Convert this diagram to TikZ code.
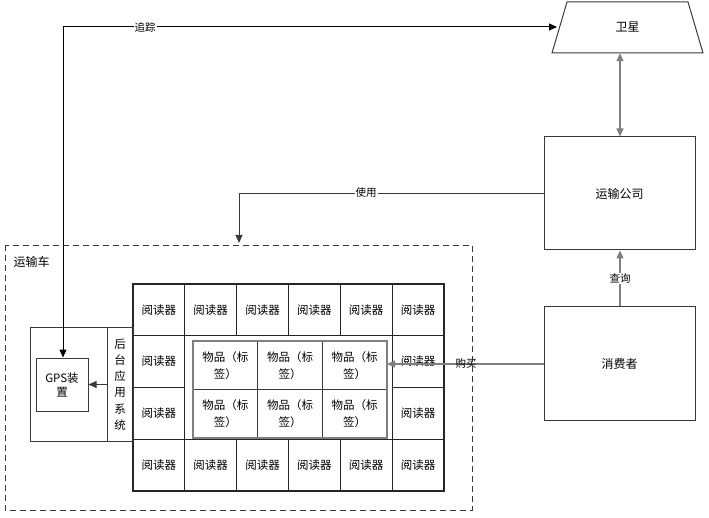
\documentclass[tikz,border=0pt]{standalone}
\usepackage{fontspec}
\setmainfont{Noto Sans CJK SC}
\usetikzlibrary{arrows.meta,shapes.geometric}
\definecolor{edge}{HTML}{3A3A3A}
\definecolor{lgray}{HTML}{7F7F7F}
\tikzset{
  box/.style={draw=edge,line width=1pt,inner sep=0pt,font=\fontsize{11.5}{14}\selectfont,align=center},
  cell/.style={draw=black!85,line width=1.2pt,inner sep=0pt,minimum width=51.83pt,minimum height=51.75pt,font=\fontsize{11.5}{14}\selectfont},
  item/.style={draw=edge,line width=1pt,inner sep=0pt,minimum width=64.67pt,minimum height=48.5pt,font=\fontsize{11.5}{17}\selectfont,align=center},
  lab/.style={fill=white,inner sep=1pt,font=\fontsize{10.5}{12}\selectfont},
  tip/.style={-{Triangle[length=8pt,width=7pt]}},
  dtip/.style={{Triangle[length=8pt,width=7pt]}-{Triangle[length=8pt,width=7pt]}}
}
\begin{document}
\begin{tikzpicture}[x=1pt,y=-1pt]
\useasboundingbox (0,0) rectangle (709,518);
% vehicle dashed frame
\draw[dashed,line width=0.9pt,dash pattern=on 6pt off 4pt,edge] (5,245) rectangle (472,510);
\node[anchor=west,font=\fontsize{12}{14}\selectfont] (car) at (10,262) {运输车};
% readers
\foreach \c in {1,...,6}{
  \node[cell] (ra\c) at ({133+51.83*(\c-0.5)},{284+51.75*0.5}) {阅读器};
  \node[cell] (rd\c) at ({133+51.83*(\c-0.5)},{284+51.75*3.5}) {阅读器};
}
\foreach \r/\n in {2/b,3/c}{
  \node[cell] (r\n1) at ({133+51.83*0.5},{284+51.75*(\r-0.5)}) {阅读器};
  \node[cell] (r\n6) at ({133+51.83*5.5},{284+51.75*(\r-0.5)}) {阅读器};
}
% items
\foreach \c in {1,2,3}{
  \node[item] (ia\c) at ({193+64.67*(\c-0.5)},{341+48.5*0.5}) {物品（标\\签）};
  \node[item] (ib\c) at ({193+64.67*(\c-0.5)},{341+48.5*1.5}) {物品（标\\签）};
}
\draw[lgray,line width=1.2pt] (193,341) rectangle (387,438);
\coordinate (itemR) at (387,364);
% left box
\node[box,minimum width=77pt,minimum height=113pt] (left) at (68.5,384.5) {};
\node[box,minimum width=26pt,minimum height=113pt,font=\fontsize{11.5}{16.3}\selectfont] (back) at (120,384.5) {后\\台\\应\\用\\系\\统};
\node[box,minimum width=52pt,minimum height=53pt] (gps) at (62,384.5) {GPS装\\置};
\draw[tip,edge,line width=1pt] (back.west |- gps.east) -- (gps.east);
% right side
\node[inner sep=0pt,minimum width=151pt,minimum height=51pt,font=\fontsize{12}{14}\selectfont] (sat) at (627.5,27.5) {卫星};
\draw[edge,line width=1pt] (567,2) -- (688,2) -- (703,53) -- (552,53) -- cycle;
\node[box,minimum width=151pt,minimum height=113pt,font=\fontsize{12}{14}\selectfont] (co) at (619.5,193.5) {运输公司};
\node[box,minimum width=151pt,minimum height=113pt,font=\fontsize{12}{14}\selectfont] (cons) at (619.5,363.5) {消费者};
% connectors
\coordinate (satL) at (557,27);
\draw[dtip,black,line width=1pt] (satL) -- (63,27) -- (gps.north -| 63,0) ;
\node[lab] at (145,27) {追踪};
\draw[dtip,lgray,line width=1.3pt] (sat.south -| 620,0) -- (co.north -| 620,0);
\coordinate (carTop) at (239,243);
\draw[tip,edge,line width=1pt] (co.west) -- (239,193.5) -- (carTop);
\node[lab] at (366,193) {使用};
\draw[tip,lgray,line width=1.3pt] (cons.north -| 620,0) -- node[lab,text=black]{查询} (co.south -| 620,0);
\draw[tip,lgray,line width=1.3pt] (cons.west |- itemR) -- (itemR);
\node[lab,fill=none] at (466,364) {购买};
\end{tikzpicture}
\end{document}
